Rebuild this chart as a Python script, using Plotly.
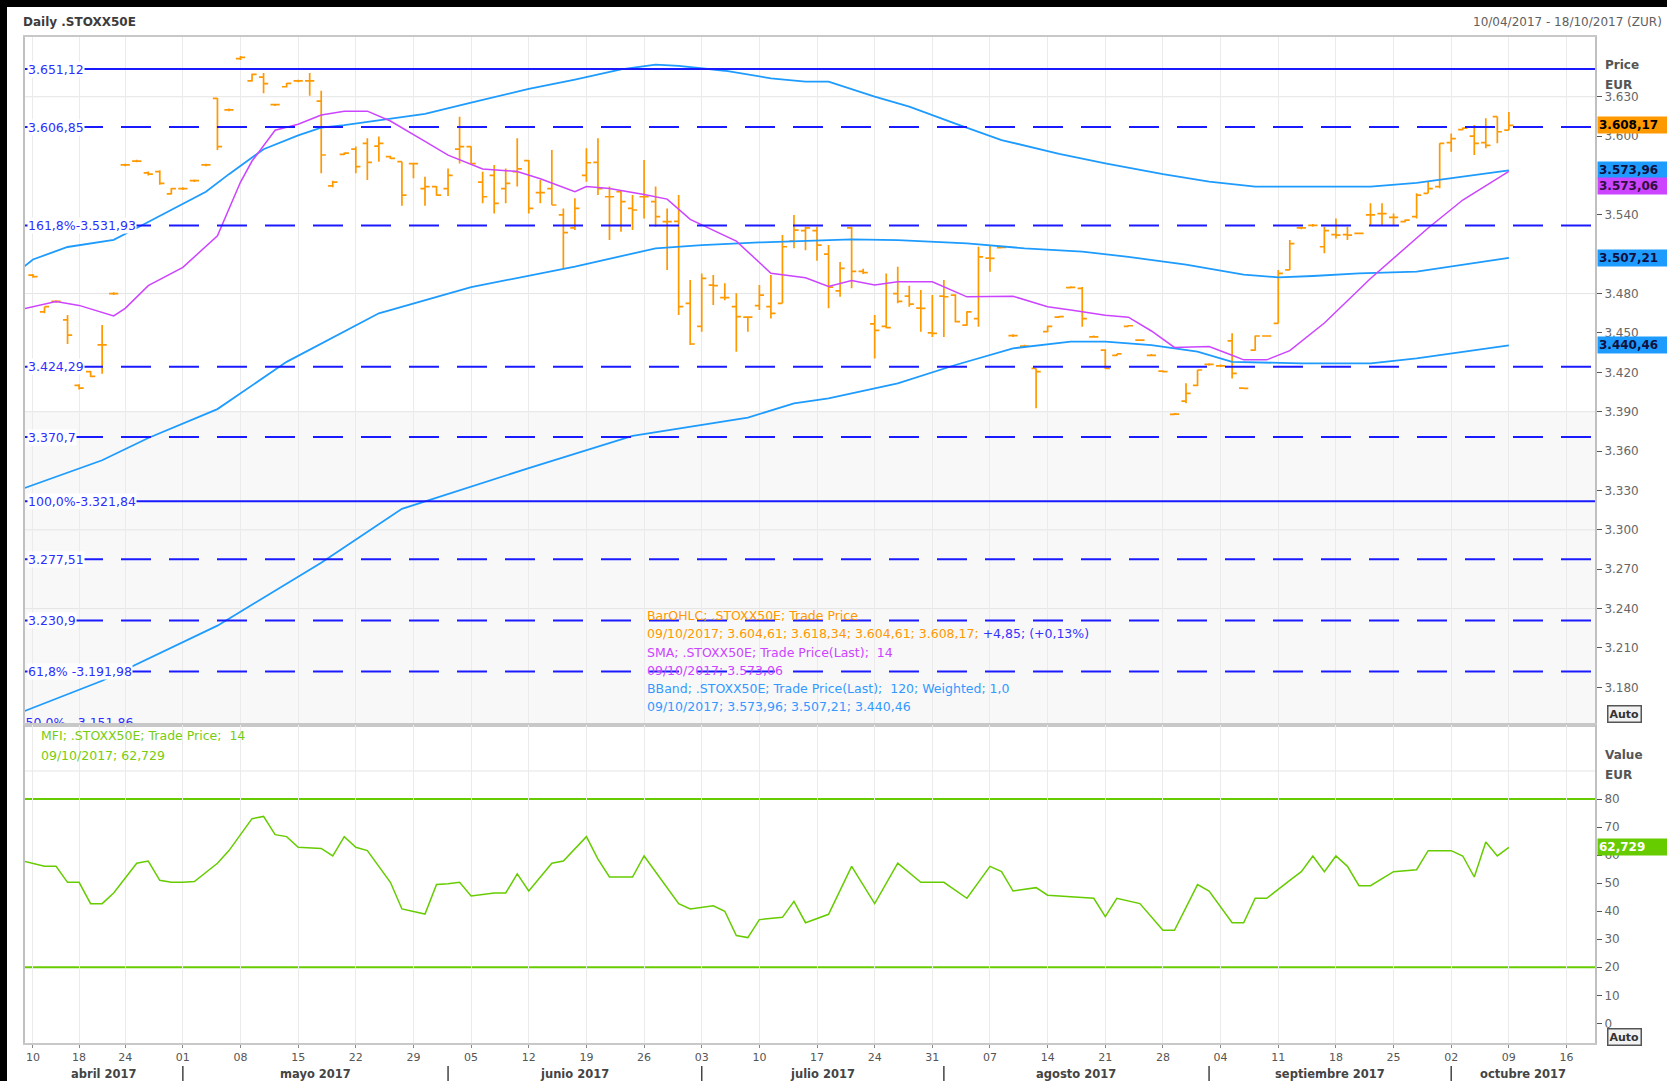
import pandas as pd
import plotly.graph_objects as go

FONT = "DejaVu Sans"
ORANGE = "#ff9900"
BB_BLUE = "#1e9bff"
SMA_COL = "#cc44ff"
MFI_COL = "#66cc00"
FIB_COL = "#1a1aff"

# ---------------- calendar (trading sessions) ----------------
holidays = ["2017-04-14", "2017-04-17"]
sessions = [d for d in pd.bdate_range("2017-04-10", "2017-10-20")
            if d.strftime("%Y-%m-%d") not in holidays]
month_names = ["abril 2017", "mayo 2017", "junio 2017", "julio 2017",
               "agosto 2017", "septiembre 2017", "octubre 2017"]

# ---------------- OHLC data (session 0 = 10/04/2017) ----------------
open_ = [3494, 3466, 3474, 3460, 3410, 3420.5, 3441, 3480, 3578, 3581,
         3572, 3573, 3556, 3560, 3566, 3578, 3628.8, 3620, 3659, 3642,
         3645, 3624, 3637.6, 3642, 3642, 3626.7, 3562, 3586, 3590, 3594.5,
         3592.4, 3584.3, 3580.5, 3579, 3560, 3561.5, 3560, 3590, 3592, 3565,
         3570, 3560, 3573, 3581.3, 3557, 3560, 3540, 3530, 3570, 3580,
         3553.8, 3557.6, 3545, 3553.8, 3550, 3534.8, 3535, 3472.6, 3455, 3486.5,
         3477, 3470, 3462, 3470.8, 3470, 3472.6, 3520, 3528, 3528, 3510,
         3482, 3530, 3497, 3457, 3455, 3480, 3478, 3469, 3450, 3478,
         3478.9, 3456, 3461, 3507, 3515, 3448, 3440, 3423, 3451, 3462,
         3484.5, 3484, 3447, 3437, 3433, 3455, 3444.6, 3433, 3421, 3388,
         3398, 3410, 3426, 3425, 3444, 3408, 3437, 3447.7, 3457.3, 3498,
         3530, 3532, 3515.7, 3525, 3525, 3525.9, 3540, 3541, 3538, 3534.8,
         3538.6, 3556.4, 3561.5, 3595, 3605, 3600, 3595, 3614.8, 3604.61]
high = [3495, 3470, 3475, 3463.7, 3411, 3421, 3456, 3481, 3579, 3582,
        3573, 3574, 3560.5, 3561, 3567, 3579, 3629, 3621, 3661, 3647.5,
        3648, 3624.5, 3640.5, 3643, 3648, 3634.6, 3566, 3587.5, 3592, 3598.3,
        3599.6, 3585, 3580.5, 3579.2, 3569, 3562, 3575.4, 3614.8, 3592, 3572.9,
        3578, 3575.4, 3598.3, 3581.8, 3566.5, 3589.4, 3544.9, 3552.6, 3590.7, 3598.3,
        3561.5, 3558.9, 3555.1, 3581.8, 3561.5, 3544.9, 3555.1, 3490.3, 3495.4, 3494.1,
        3487.8, 3480.2, 3462.4, 3486.5, 3494.1, 3524.6, 3539.9, 3531, 3531, 3517,
        3504, 3531, 3499, 3463.7, 3495.4, 3500.5, 3486, 3482.7, 3478.9, 3490.3,
        3479.5, 3466.5, 3515.7, 3517, 3516, 3449, 3441, 3423, 3455.5, 3463,
        3485.5, 3485, 3448, 3437.5, 3434, 3456, 3445, 3434, 3421.5, 3389,
        3411.6, 3422, 3427, 3426, 3449.7, 3408.5, 3448, 3448.2, 3498, 3520.8,
        3531, 3533, 3531, 3537.3, 3531, 3526.4, 3548.8, 3548.8, 3541, 3536.5,
        3556.4, 3565.3, 3594.5, 3602, 3606.5, 3608.4, 3613.5, 3614.8, 3618.34]
low = [3492, 3465, 3473, 3441.6, 3407, 3416.5, 3419, 3479, 3577, 3580,
       3570, 3563, 3555.5, 3559, 3565, 3577, 3589.4, 3619, 3658, 3641.5,
       3632.6, 3623, 3637, 3641, 3630.8, 3571.6, 3561, 3585.5, 3571.6, 3566.5,
       3580.5, 3582.5, 3547, 3567.8, 3547, 3554.5, 3554.3, 3579.2, 3578.7, 3548.8,
       3541, 3548.8, 3561.5, 3541.1, 3548.8, 3547.5, 3499.2, 3528.4, 3565.3, 3555.1,
       3520.8, 3527.2, 3528.4, 3537.3, 3531, 3498, 3463.7, 3440.8, 3451, 3471.3,
       3475, 3435.7, 3451, 3467.5, 3461.1, 3472.6, 3514.5, 3513, 3505, 3468.8,
       3477.6, 3484, 3495, 3430.6, 3453.5, 3472.6, 3470, 3451, 3447, 3447,
       3458, 3455.5, 3454.8, 3496.7, 3514.5, 3447, 3439, 3392.6, 3450.5, 3461.5,
       3484, 3454.8, 3446.5, 3422.5, 3432.5, 3455, 3444, 3432.5, 3420, 3387.5,
       3396.4, 3409.5, 3425, 3424, 3415.4, 3407.5, 3436.5, 3447.2, 3457.3, 3498,
       3529, 3531, 3510.7, 3522, 3520.8, 3525.4, 3532.2, 3532.2, 3532.2, 3534.3,
       3537.3, 3556.4, 3560.2, 3588, 3604.5, 3585.6, 3590.7, 3594.5, 3604.61]
close = [3493, 3470, 3474, 3448.4, 3408, 3417, 3441, 3480, 3578, 3581,
         3571, 3564, 3560, 3560, 3566, 3578, 3592, 3620, 3660, 3647,
         3640, 3624, 3640.2, 3642, 3642, 3585.6, 3565, 3587, 3576.7, 3580,
         3594.5, 3583, 3555, 3579, 3561.5, 3555, 3570, 3592, 3579, 3553.8,
         3548.8, 3564, 3575, 3544.9, 3557, 3547.5, 3526.4, 3544.9, 3579.7, 3560,
         3553.8, 3550, 3543.7, 3553.8, 3538.6, 3534.8, 3470, 3441.6, 3491.6, 3486,
         3477, 3462.4, 3462, 3478.9, 3465, 3515.7, 3528.4, 3530, 3517, 3485,
         3499.2, 3497, 3496, 3452, 3454, 3474, 3472, 3468.8, 3449.7, 3477.6,
         3458.6, 3466, 3508, 3506.8, 3515.2, 3448, 3440, 3420.5, 3455, 3462.4,
         3484.8, 3461, 3447, 3423, 3434, 3455.5, 3444.6, 3433, 3420.5, 3388.2,
         3404, 3421.8, 3426, 3425, 3419.2, 3407.8, 3447.7, 3447.7, 3495.4, 3518,
         3530, 3532, 3528, 3524.6, 3524.6, 3525.9, 3540, 3541, 3538, 3536,
         3555, 3560, 3594.5, 3598, 3606, 3594.5, 3593, 3603.32, 3608.17]

# ---------------- indicator lines (read at given sessions) ----------------
bb_upper_day = [-1, 0, 3, 7, 9, 12, 15, 17, 20, 23, 25, 27, 30, 34, 38, 43, 47, 51, 54, 56,
                60, 64, 67, 69, 73, 76, 80, 84, 89, 93, 98, 102, 106, 111, 116, 120, 124, 128]
bb_upper = [3499, 3506, 3515.5, 3521, 3530, 3543.7, 3557.6, 3571, 3590, 3600.5,
            3606.5, 3608.3, 3612, 3617, 3625.5, 3636, 3643, 3650.8, 3654.5, 3653.5,
            3649.8, 3644, 3641.5, 3641.5, 3630, 3622.4, 3609.5, 3597, 3586.5, 3579.2,
            3571, 3565.3, 3561.5, 3561.5, 3561.5, 3564.3, 3569, 3573.96]
bb_mid_day = [-1, 6, 10, 16, 22, 30, 38, 47, 54, 58, 63, 67, 71, 75, 81, 86, 91, 95, 100,
              105, 108, 111, 115, 120, 124, 128]
bb_mid = [3331, 3353, 3370, 3392, 3428, 3465, 3485, 3500.5, 3514.5, 3517,
          3519, 3520, 3521.3, 3520.8, 3518.3, 3514.5, 3512, 3508, 3502, 3494.5,
          3492.4, 3493.4, 3495.4, 3496.7, 3501.8, 3507.21]
bb_low_day = [-1, 6, 16, 25, 32, 43, 52, 62, 66, 69, 75, 80, 85, 90, 93, 97, 101, 104,
              110, 116, 120, 124, 128]
bb_low = [3161, 3185, 3227, 3275, 3316, 3347, 3371.6, 3385.5, 3396.4, 3400.2,
          3411.6, 3425.6, 3438.3, 3443.4, 3443.4, 3440.8, 3435.7, 3428, 3426.8, 3426.8,
          3430.7, 3435.7, 3440.46]
sma_day = [-1, 0, 2, 4, 7, 8, 10, 13, 16, 18, 19, 21, 23, 25, 27, 29, 31, 34, 36, 39,
           42, 44, 47, 48, 50, 53, 55, 57, 61, 64, 67, 69, 71, 73, 75, 78, 81, 85, 88, 90,
           93, 95, 97, 99, 102, 104, 105, 107, 109, 112, 116, 121, 124, 128]
sma = [3468, 3470, 3474, 3471, 3463, 3468.8, 3486, 3500, 3524, 3565,
       3581, 3604.5, 3609, 3616, 3619, 3619, 3611.5, 3596, 3585.5, 3575,
       3573, 3567.5, 3557.6, 3561.5, 3560, 3555.5, 3552, 3536.5, 3520, 3495.5,
       3492, 3485.5, 3490, 3486.5, 3489, 3489, 3477.5, 3478, 3470, 3467.5,
       3463.5, 3462, 3451.5, 3439, 3439.6, 3433, 3429.5, 3429.5, 3436.5, 3457.6,
       3491.5, 3530, 3551.3, 3573.06]
mfi_day = [-1, 1, 2, 3, 4, 5, 6, 7, 9, 10, 11, 12, 13, 14, 16, 17, 19, 20, 21, 22,
           23, 25, 26, 27, 28, 29, 31, 32, 34, 35, 36, 37, 38, 40, 41, 42, 43, 45, 46, 48,
           49, 50, 52, 53, 56, 57, 59, 60, 61, 62, 63, 65, 66, 67, 69, 71, 73, 75, 77, 79,
           81, 83, 84, 85, 87, 88, 92, 93, 94, 96, 98, 99, 101, 102, 104, 105, 106, 107, 109, 110,
           111, 112, 113, 114, 115, 116, 118, 120, 121, 123, 124, 125, 126, 127, 128]
mfi = [58, 56, 56, 50.3, 50.3, 42.7, 42.7, 46.5, 57.1, 57.9,
       51, 50.3, 50.3, 50.6, 57.1, 61.6, 73, 73.8, 67.3, 66.6,
       62.8, 62.4, 59.7, 66.6, 62.8, 61.6, 50.3, 40.8, 39, 49.5,
       49.8, 50.3, 45.4, 46.5, 46.5, 53.3, 47.2, 57.1, 57.9, 66.6,
       58.6, 52.2, 52.2, 59.7, 42.7, 40.8, 41.9, 40, 31.3, 30.6,
       37, 37.8, 43.5, 35.9, 38.9, 56, 42.7, 57.1, 50.3, 50.3,
       44.6, 56, 54.1, 47.2, 48.4, 45.7, 44.6, 38.1, 44.6, 42.7,
       33.2, 33.2, 49.5, 47.2, 35.9, 35.9, 44.6, 44.6, 51, 54.1,
       59.7, 54.1, 59.7, 56, 49.1, 49.1, 54.1, 54.8, 61.6, 61.6,
       59.7, 52.2, 64.7, 59.7, 62.729]

# ---------------- levels and tick labels ----------------
fib_levels = [3651.12, 3606.85, 3531.93, 3424.29, 3370.7, 3321.84, 3277.51, 3230.9, 3191.98]
fib_labels = ["3.651,12", "3.606,85", "161,8%-3.531,93", "3.424,29", "3.370,7",
              "100,0%-3.321,84", "3.277,51", "3.230,9", "61,8% -3.191,98"]
fib_solid = [True, False, False, False, False, True, False, False, False]
fib_cut_level = 3151.86
fib_cut_label = "50,0% - 3.151,86"
price_tick_labels = ["3.630", "3.600", "3.540", "3.480", "3.450", "3.420", "3.390",
                     "3.360", "3.330", "3.300", "3.270", "3.240", "3.210", "3.180"]
mfi_tick_labels = ["80", "70", "60", "50", "40", "30", "20", "10", "0"]
mfi_bounds = [80, 20]
price_grid = [3630, 3480, 3390, 3300, 3240]
mfi_grid = [90]

# ---------------- geometry helpers ----------------
W, H = 1667, 1081
L, R, T, B = 25, 1595, 37, 1043
SPLIT = 725
XMIN, XMAX = -0.69, 135.47
YMIN, YMAX = 3151.3, 3675.5
MMIN, MMAX = -7.0, 106.4
PRICE_BOTTOM = (B - SPLIT) / (B - T)


def px(xp):
    return (xp - L) / (R - L)


def py(yp):
    return (B - yp) / (B - T)


def eu(v, nd=2):
    s = f"{v:,.{nd}f}"
    return s.replace(",", "X").replace(".", ",").replace("X", ".")


days = list(range(len(open_)))
week_idx = [i for i, d in enumerate(sessions)
            if (i == 0 or d.isocalendar()[1] != sessions[i - 1].isocalendar()[1]) and i <= XMAX]
week_lbl = [sessions[i].strftime("%d") for i in week_idx]
month_start = [i for i in range(1, len(sessions)) if sessions[i].month != sessions[i - 1].month and i <= XMAX]
bounds = [XMIN] + month_start + [XMAX]
month_center = [(bounds[k] + bounds[k + 1]) / 2 for k in range(len(bounds) - 1)]

fig = go.Figure()
fig.add_trace(go.Ohlc(x=days, open=open_, high=high, low=low, close=close,
                      increasing=dict(line=dict(color=ORANGE, width=1.7)),
                      decreasing=dict(line=dict(color=ORANGE, width=1.7)),
                      tickwidth=0.4, xaxis="x", yaxis="y", hoverinfo="skip", showlegend=False))
for xs, ys in [(bb_upper_day, bb_upper), (bb_mid_day, bb_mid), (bb_low_day, bb_low)]:
    fig.add_trace(go.Scatter(x=xs, y=ys, mode="lines", line=dict(color=BB_BLUE, width=1.8),
                             xaxis="x", yaxis="y", hoverinfo="skip"))
fig.add_trace(go.Scatter(x=sma_day, y=sma, mode="lines", line=dict(color=SMA_COL, width=1.5),
                         xaxis="x", yaxis="y", hoverinfo="skip"))
fig.add_trace(go.Scatter(x=[XMIN + 0.05], y=[fib_cut_level], mode="text", text=[fib_cut_label],
                         textposition="middle right", cliponaxis=True,
                         textfont=dict(family=FONT, size=12.5, color="#2e2eff"),
                         xaxis="x", yaxis="y", hoverinfo="skip"))
fig.add_trace(go.Scatter(x=mfi_day, y=mfi, mode="lines", line=dict(color=MFI_COL, width=1.5),
                         xaxis="x2", yaxis="y2", hoverinfo="skip"))

shapes = []
# background shading and grid
shapes.append(dict(type="rect", xref="x domain", x0=0, x1=1, yref="y", y0=YMIN, y1=3390,
                   fillcolor="#f8f8f8", line=dict(width=0), layer="below"))
for g in price_grid:
    shapes.append(dict(type="line", xref="x domain", x0=0, x1=1, yref="y", y0=g, y1=g,
                       line=dict(color="#e4e4e4", width=1), layer="below"))
for g in mfi_grid:
    shapes.append(dict(type="line", xref="x2 domain", x0=0, x1=1, yref="y2", y0=g, y1=g,
                       line=dict(color="#e4e4e4", width=1), layer="below"))
for b in mfi_bounds:
    shapes.append(dict(type="line", xref="x2 domain", x0=0, x1=1, yref="y2", y0=b, y1=b,
                       line=dict(color=MFI_COL, width=2), layer="below"))
for lvl, solid in zip(fib_levels, fib_solid):
    shapes.append(dict(type="line", xref="x domain", x0=0, x1=1, yref="y", y0=lvl, y1=lvl,
                       line=dict(color=FIB_COL, width=2, dash="solid" if solid else "30px,18px"),
                       layer="above"))
# month separators
for m in month_start:
    shapes.append(dict(type="line", xref="x2", x0=m, x1=m, yref="paper", y0=py(1081), y1=py(1066),
                       line=dict(color="#444", width=1.5)))
# black frame of the screenshot
shapes.append(dict(type="rect", xref="paper", yref="paper", x0=px(0), x1=px(7), y0=py(H), y1=py(0),
                   fillcolor="black", line=dict(width=0)))
shapes.append(dict(type="rect", xref="paper", yref="paper", x0=px(0), x1=px(W), y0=py(7), y1=py(0),
                   fillcolor="black", line=dict(width=0)))

ann = []
# header
ann.append(dict(xref="paper", yref="paper", x=px(21), y=py(22), xanchor="left", yanchor="middle",
                text="<b>Daily .STOXX50E</b>", showarrow=False, font=dict(size=12, color="#3c3c3c")))
ann.append(dict(xref="paper", yref="paper", x=px(1664), y=py(22), xanchor="right", yanchor="middle",
                text="10/04/2017 - 18/10/2017 (ZUR)", showarrow=False, font=dict(size=12, color="#606060")))
for txt, yp in [("Price", 65), ("EUR", 85), ("Value", 755), ("EUR", 775)]:
    ann.append(dict(xref="paper", yref="paper", x=px(1603), y=py(yp), xanchor="left", yanchor="middle",
                    text=f"<b>{txt}</b>", showarrow=False, font=dict(size=12, color="#555")))
for yp in [714, 1037]:
    ann.append(dict(xref="paper", yref="paper", x=px(1624), y=py(yp), xanchor="center", yanchor="middle",
                    text="<b>Auto</b>", showarrow=False, bgcolor="#f2f2f2", bordercolor="#555",
                    borderwidth=1.5, borderpad=1, font=dict(size=11, color="#333")))
# fib labels
for lvl, lab in zip(fib_levels, fib_labels):
    ann.append(dict(xref="paper", yref="y", x=px(27), y=lvl, xanchor="left", yanchor="middle",
                    text=lab, showarrow=False, bgcolor="white", borderpad=0,
                    font=dict(size=12.5, color="#2e2eff")))
# right value labels
last = len(close) - 1
value_tags = [(close[last], ORANGE, "black", "y", 0),
              (bb_upper[-1], BB_BLUE, "#101040", "y", 0),
              (sma[-1], SMA_COL, "#301040", "y", -15),
              (bb_mid[-1], BB_BLUE, "#101040", "y", 0),
              (bb_low[-1], BB_BLUE, "#101040", "y", 0)]
for v, bg, fc, yr, ys in value_tags:
    ann.append(dict(xref="paper", yref=yr, x=1, xshift=2, y=v, yshift=ys, xanchor="left", yanchor="middle",
                    text=f"<b>{eu(v)}</b>", showarrow=False, bgcolor=bg, width=68, height=14, align="left",
                    borderpad=1, font=dict(size=12, color=fc)))
ann.append(dict(xref="paper", yref="y2", x=1, xshift=2, y=mfi[-1], xanchor="left", yanchor="middle",
                text=f"<b>{eu(mfi[-1], 3)}</b>", showarrow=False, bgcolor=MFI_COL, width=68, height=14,
                align="left", borderpad=1, font=dict(size=12, color="white")))
# legends
date_txt = sessions[last].strftime("%d/%m/%Y")
chg = close[last] - close[last - 1]
pct = chg / close[last - 1] * 100
leg = [
    ("BarOHLC; .STOXX50E; Trade Price", ORANGE, 615),
    (f"<span style='color:{ORANGE}'>{date_txt}; {eu(open_[last])}; {eu(high[last])}; {eu(low[last])}; "
     f"{eu(close[last])}; </span><span style='color:#3333ff'>+{eu(chg)}; (+{eu(pct)}%)</span>", ORANGE, 633),
    ("SMA; .STOXX50E; Trade Price(Last);  14", SMA_COL, 652),
    (f"{date_txt}; {eu(sma[-1])}", SMA_COL, 670),
    ("BBand; .STOXX50E; Trade Price(Last);  120; Weighted; 1,0", "#3399ff", 688),
    (f"{date_txt}; {eu(bb_upper[-1])}; {eu(bb_mid[-1])}; {eu(bb_low[-1])}", "#3399ff", 706),
]
for txt, col, yp in leg:
    ann.append(dict(xref="paper", yref="paper", x=px(645), y=py(yp), xanchor="left", yanchor="middle",
                    text=txt, showarrow=False, font=dict(size=12.5, color=col)))
for txt, yp in [("MFI; .STOXX50E; Trade Price;  14", 735), (f"{date_txt}; {eu(mfi[-1], 3)}", 755)]:
    ann.append(dict(xref="paper", yref="paper", x=px(39), y=py(yp), xanchor="left", yanchor="middle",
                    text=txt, showarrow=False, font=dict(size=12.5, color="#77cc11")))
# month labels
for c, name in zip(month_center, month_names):
    ann.append(dict(xref="x2", yref="paper", x=c, y=py(1074), xanchor="center", yanchor="middle",
                    text=f"<b>{name}</b>", showarrow=False, font=dict(size=11.5, color="#444")))

price_tick_vals = [float(s.replace(".", "")) for s in price_tick_labels]
mfi_tick_vals = [float(s) for s in mfi_tick_labels]

fig.update_layout(
    width=W, height=H, margin=dict(l=L, r=W - R, t=T, b=H - B, pad=0),
    paper_bgcolor="white", plot_bgcolor="white", showlegend=False, hovermode=False,
    font=dict(family=FONT, size=12, color="#555"),
    xaxis=dict(domain=[0, 1], anchor="y", range=[XMIN, XMAX], tickvals=week_idx, showticklabels=False,
               ticks="", showgrid=True, gridcolor="#ebebeb", zeroline=False, showline=True,
               linecolor="#c8c8c8", linewidth=1.5, mirror=True, rangeslider=dict(visible=False)),
    yaxis=dict(domain=[PRICE_BOTTOM, 1], anchor="x", range=[YMIN, YMAX], side="right",
               tickvals=price_tick_vals, ticktext=price_tick_labels, ticks="outside", ticklen=5,
               tickcolor="#555", tickfont=dict(size=12, color="#666"), showgrid=False, zeroline=False,
               showline=True, linecolor="#c0c0c0", linewidth=2, mirror=True),
    xaxis2=dict(domain=[0, 1], anchor="y2", range=[XMIN, XMAX], tickvals=week_idx, ticktext=week_lbl,
                ticks="outside", ticklen=3, tickcolor="#888", tickfont=dict(size=11, color="#555"),
                showgrid=True, gridcolor="#ebebeb", zeroline=False, showline=True,
                linecolor="#c8c8c8", linewidth=1.5, mirror=True),
    yaxis2=dict(domain=[0, PRICE_BOTTOM], anchor="x2", range=[MMIN, MMAX], side="right",
                tickvals=mfi_tick_vals, ticktext=mfi_tick_labels, ticks="outside", ticklen=5,
                tickcolor="#555", tickfont=dict(size=12, color="#666"), showgrid=False, zeroline=False,
                showline=True, linecolor="#c0c0c0", linewidth=2, mirror=True),
    shapes=shapes, annotations=ann,
)

fig.write_html("out.html", config={"displayModeBar": False},
               post_script="document.body.style.margin='0';document.body.style.overflow='hidden';")
